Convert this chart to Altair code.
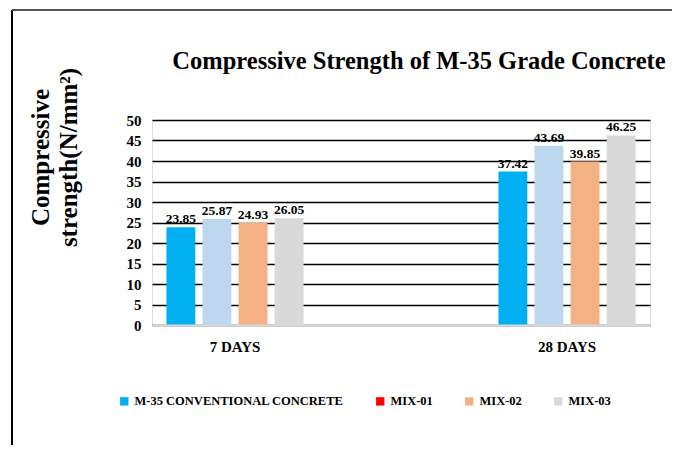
import altair as alt
import pandas as pd

periods = ["7 DAYS", "28 DAYS"]
x_domain = ["7 DAYS", "gap", "28 DAYS"]
series = ["M-35 CONVENTIONAL CONCRETE", "MIX-01", "MIX-02", "MIX-03"]
values_7 = [23.85, 25.87, 24.93, 26.05]
values_28 = [37.42, 43.69, 39.85, 46.25]
bar_colors = ["#00B0F0", "#BDD7EE", "#F4B183", "#D9D9D9"]
legend_colors = ["#00B0F0", "#FF0000", "#F4B183", "#D9D9D9"]
y_ticks = [0, 5, 10, 15, 20, 25, 30, 35, 40, 45, 50]
chart_title = "Compressive Strength of M-35 Grade Concrete"

rows = []
for p, vals in zip(periods, [values_7, values_28]):
    for s, v, c in zip(series, vals, bar_colors):
        rows.append({"period": p, "series": s, "legend_item": s, "bar_color": c,
                     "value": v, "label": f"{v:.2f}"})
df = pd.DataFrame(rows)

FONT = "Liberation Serif"

x_enc = alt.X(
    "period:N",
    scale=alt.Scale(domain=x_domain, paddingInner=0, paddingOuter=0),
    sort=x_domain,
    axis=alt.Axis(
        title=None, labelAngle=0, ticks=False, domainColor="#D9D9D9", domainWidth=2,
        labelFont=FONT, labelFontSize=15, labelFontWeight="bold", labelColor="black",
        labelPadding=14, zindex=1,
        labelExpr="datum.value == 'gap' ? '' : datum.value",
    ),
)
xoff = alt.XOffset("series:N", scale=alt.Scale(domain=series, paddingInner=0.2, paddingOuter=0.4))
y_enc = alt.Y(
    "value:Q",
    scale=alt.Scale(domain=[0, 50], nice=False),
    axis=alt.Axis(
        values=y_ticks, ticks=False, domain=False, grid=True, gridColor="black", gridWidth=1.3,
        labelFont=FONT, labelFontSize=15, labelFontWeight="bold", labelColor="black",
        labelPadding=11, labelOverlap=False, zindex=0,
        title=["Compressive", "strength(N/mm²)"], titleFont=FONT, titleFontSize=25,
        titleFontWeight="bold", titleColor="black", titleAngle=-90, titleAlign="center",
        titleBaseline="top", titleX=-124, titleY=37, titleLineHeight=28,
    ),
)

base = alt.Chart(df)

bars = base.mark_bar().encode(
    x=x_enc, xOffset=xoff, y=y_enc,
    fill=alt.Fill("bar_color:N", scale=None),
)

labels = base.mark_text(
    baseline="bottom", dy=-1, font=FONT, fontSize=13.5, fontWeight="bold", color="black"
).encode(x=x_enc, xOffset=xoff, y=y_enc, text="label:N")

legend_layer = base.mark_square(opacity=0).encode(
    x=x_enc, xOffset=xoff, y=y_enc,
    color=alt.Color(
        "legend_item:N",
        scale=alt.Scale(domain=series, range=legend_colors),
        legend=alt.Legend(
            title=None, orient="none", legendX=-34, legendY=275, direction="horizontal",
            columns=4, columnPadding=30, symbolType="square", symbolSize=70,
            symbolOpacity=1, symbolStrokeWidth=0, labelOffset=4, labelLimit=400,
            labelFont=FONT, labelFontSize=12.5, labelFontWeight="bold", labelColor="black",
        ),
    ),
)

title_layer = alt.Chart(pd.DataFrame({"t": [chart_title]})).mark_text(
    font=FONT, fontSize=24.5, fontWeight="bold", color="black", align="center", baseline="alphabetic"
).encode(x=alt.value(267), y=alt.value(-51), text="t:N")

frame_left = base.mark_rule(color="black", strokeWidth=2).encode(
    x=alt.value(-140), y=alt.value(-110), y2=alt.value(340)
)
frame_top = base.mark_rule(color="#555555", strokeWidth=1.2).encode(
    x=alt.value(-140), x2=alt.value(523), y=alt.value(-110)
)
frame_right = base.mark_rule(color="black", strokeWidth=1.2).encode(
    x=alt.value(523), y=alt.value(-110), y2=alt.value(340)
)

chart = alt.layer(
    bars, labels, legend_layer, title_layer, frame_left, frame_top, frame_right
).properties(
    width=498, height=205,
    autosize=alt.AutoSizeParams(type="none"),
    padding={"left": 144, "top": 112, "right": 22, "bottom": 120},
).configure_view(stroke=None).configure(background="white")

chart.save("out.html", embed_options={"renderer": "svg", "actions": False})
